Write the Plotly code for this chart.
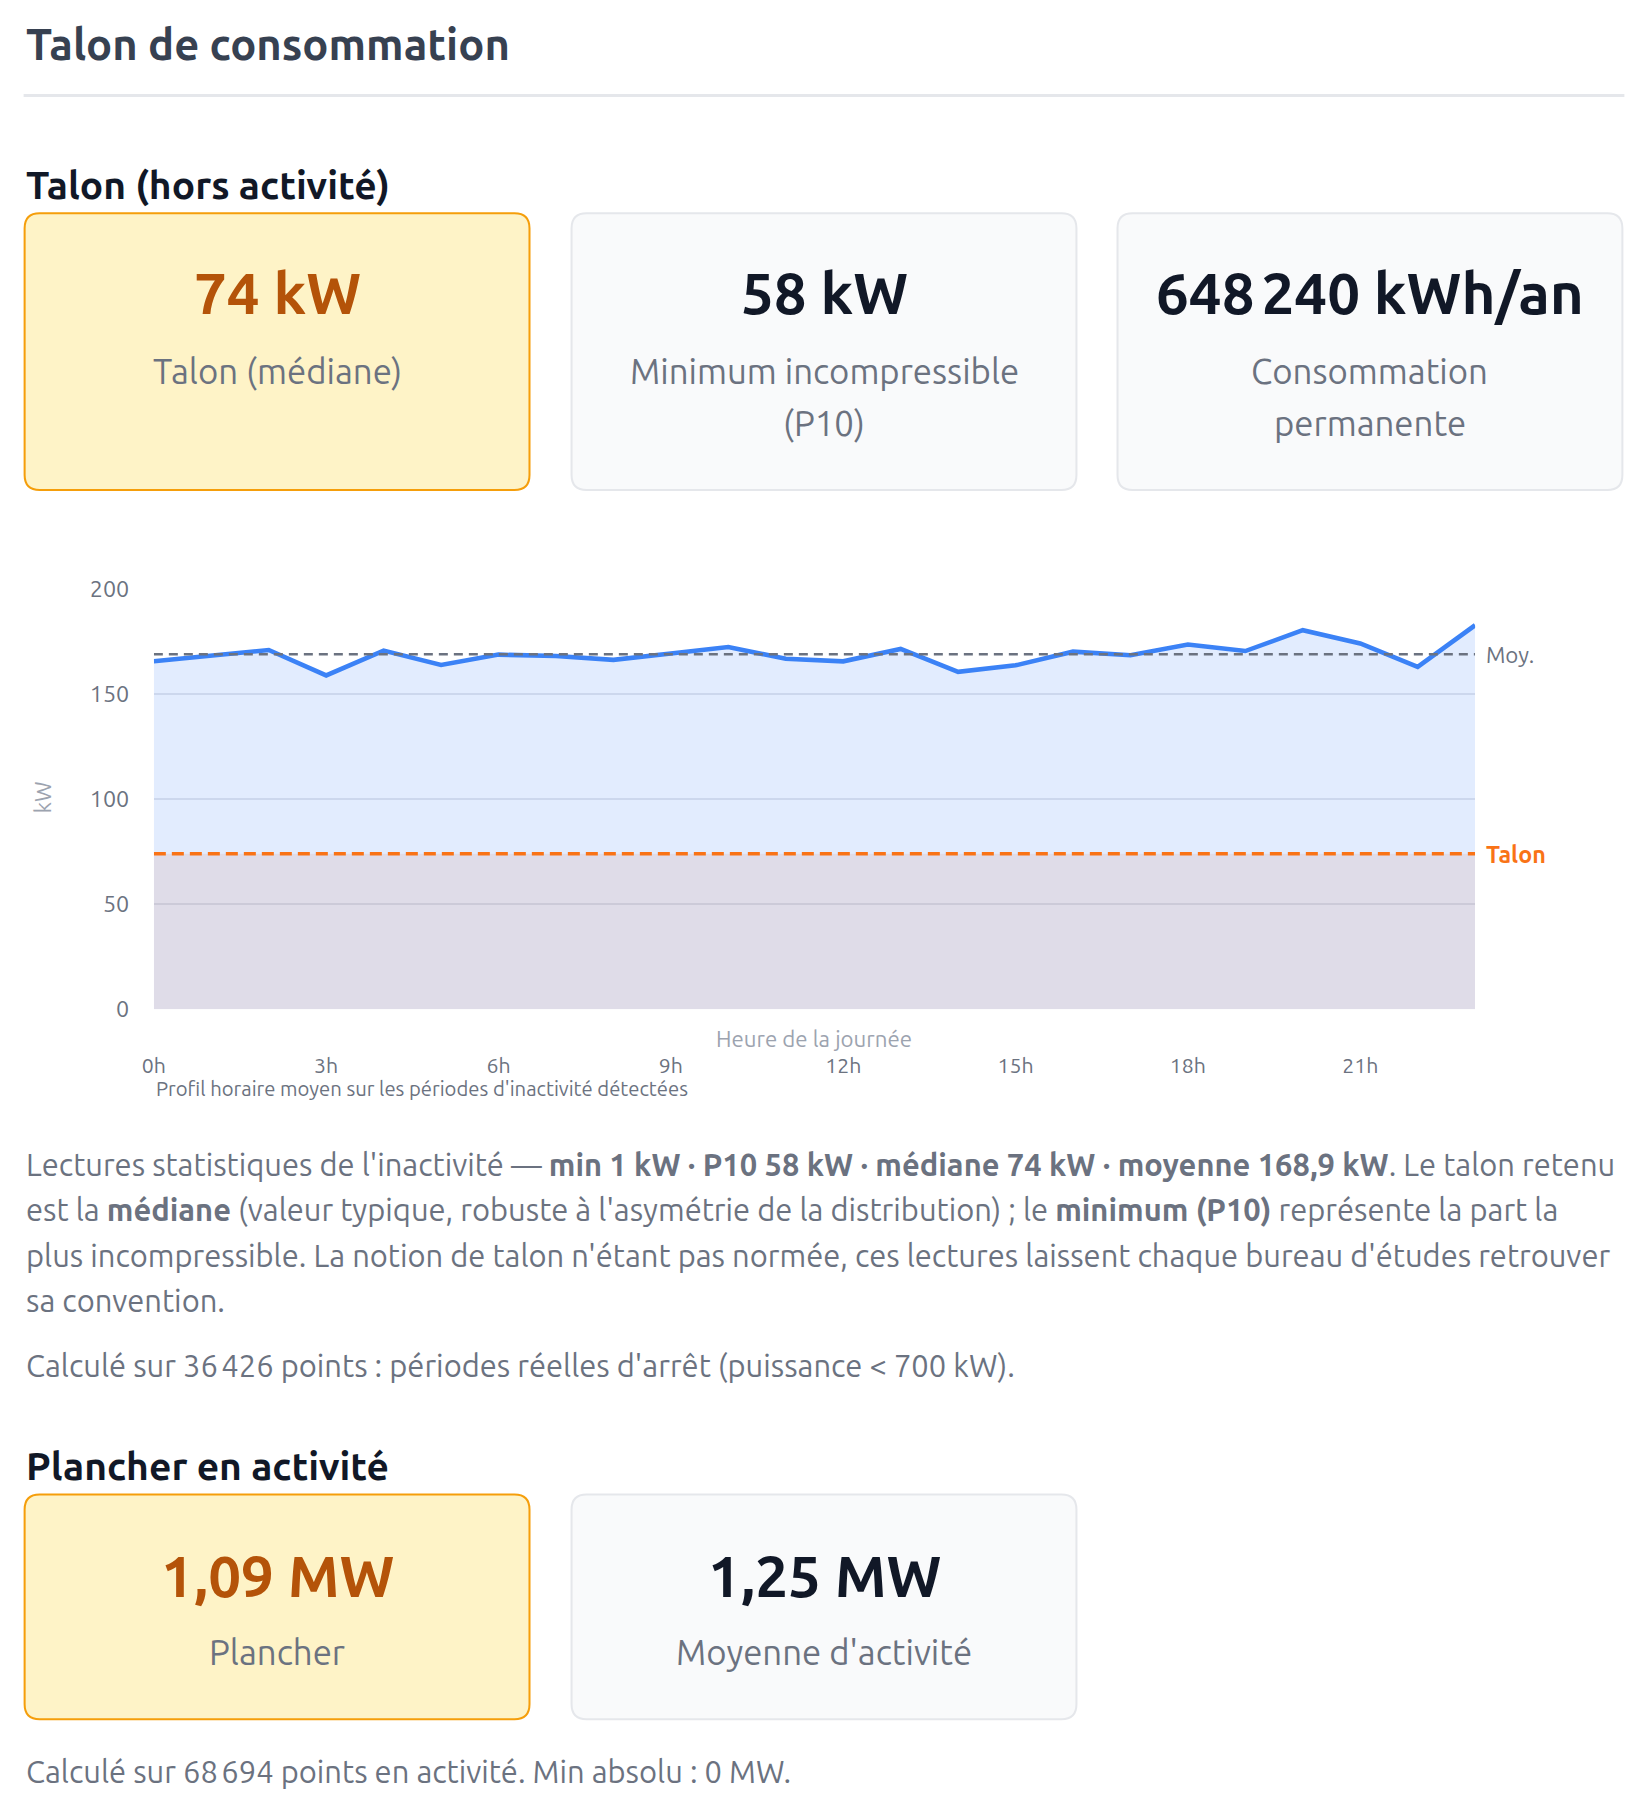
import plotly.graph_objects as go

# ---------------- data ----------------
HOURS = list(range(24))
PROFILE_KW = [165.5, 168.0, 170.9, 158.8, 170.6, 163.8, 168.7, 168.0, 166.2, 169.2, 172.3, 166.7,
              165.5, 171.4, 160.5, 163.6, 170.1, 168.4, 173.5, 170.4, 180.3, 174.0, 162.9, 182.7]
MOY_KW = 168.9
TALON_KW = 74
Y_TICKS = [0, 50, 100, 150, 200]
X_TICK_HOURS = [0, 3, 6, 9, 12, 15, 18, 21]
X_TICK_LABELS = ["0h", "3h", "6h", "9h", "12h", "15h", "18h", "21h"]

CARDS_1_VALUES = ["74 kW", "58 kW", "648\u202f240 kWh/an"]
CARDS_1_LABELS = [["Talon (médiane)"], ["Minimum incompressible", "(P10)"], ["Consommation", "permanente"]]
CARDS_2_VALUES = ["1,09 MW", "1,25 MW"]
CARDS_2_LABELS = [["Plancher"], ["Moyenne d'activité"]]

TITLE = "Talon de consommation"
SUB_1 = "Talon (hors activité)"
SUB_2 = "Plancher en activité"
BODY_LINES = [
    "Lectures statistiques de l'inactivité — <b>min 1 kW · P10 58 kW · médiane 74 kW · moyenne 168,9 kW</b>. Le talon retenu",
    "est la <b>médiane</b> (valeur typique, robuste à l'asymétrie de la distribution) ; le <b>minimum (P10)</b> représente la part la",
    "plus incompressible. La notion de talon n'étant pas normée, ces lectures laissent chaque bureau d'études retrouver",
    "sa convention.",
]
NOTE_1 = "Calculé sur 36\u202f426 points : périodes réelles d'arrêt (puissance &lt; 700 kW)."
NOTE_2 = "Calculé sur 68\u202f694 points en activité. Min absolu : 0 MW."
CHART_NOTE = "Profil horaire moyen sur les périodes d'inactivité détectées"

# ---------------- layout helpers ----------------
W, H = 1648, 1813
FONT = "Ubuntu, Lato, sans-serif"
# the page is photographed with a small inset/scale; compensate so the
# final picture lands on the target pixel positions
SX = 0.991
SY = 0.987
OFF = 13.4


def X(px):
    return ((px - OFF) / SX) / W


def Y(py):
    return 1 - ((py - OFF) / SY) / H


def F(size):
    return size / SY


annotations = []
shapes = []


def text(x, y, s, size, color, bold=False, xanchor="left", **kw):
    annotations.append(dict(
        xref="paper", yref="paper", x=X(x), y=Y(y), text=s, showarrow=False,
        xanchor=xanchor, yanchor="middle", align=xanchor if xanchor != "center" else "center",
        font=dict(family=FONT, size=F(size), color=color, weight=700 if bold else 400), **kw))


def rrect(x0, y0, x1, y1, r, fill, line):
    p = (f"M{X(x0 + r)},{Y(y0)} L{X(x1 - r)},{Y(y0)} Q{X(x1)},{Y(y0)} {X(x1)},{Y(y0 + r)} "
         f"L{X(x1)},{Y(y1 - r)} Q{X(x1)},{Y(y1)} {X(x1 - r)},{Y(y1)} "
         f"L{X(x0 + r)},{Y(y1)} Q{X(x0)},{Y(y1)} {X(x0)},{Y(y1 - r)} "
         f"L{X(x0)},{Y(y0 + r)} Q{X(x0)},{Y(y0)} {X(x0 + r)},{Y(y0)} Z")
    shapes.append(dict(type="path", xref="paper", yref="paper", path=p,
                       fillcolor=fill, line=dict(color=line, width=F(2)), layer="below"))


# heading + rule
text(25, 43, TITLE, 43, "#374151", bold=True)
shapes.append(dict(type="line", xref="paper", yref="paper", x0=X(25), x1=X(1623), y0=Y(95), y1=Y(95),
                   line=dict(color="#e5e7eb", width=F(3))))
text(25, 185, SUB_1, 38.5, "#111827", bold=True)


def card_row(values, labels, top, bottom, val_y, lab_y, lefts):
    for i, (v, labs) in enumerate(zip(values, labels)):
        x0 = lefts[i]
        x1 = x0 + 506
        hl = i == 0
        rrect(x0 + 1, top + 1, x1 - 1, bottom - 1, 15,
              "#fef3c7" if hl else "#f9fafb", "#f59e0b" if hl else "#e5e7eb")
        cx = (x0 + x1) / 2
        text(cx, val_y, v, 57.5, "#b45309" if hl else "#111827", bold=True, xanchor="center")
        for j, lab in enumerate(labs):
            text(cx, lab_y + 52 * j, lab, 34.3, "#6b7280", xanchor="center")


card_row(CARDS_1_VALUES, CARDS_1_LABELS, 212, 491, 292, 371, [25, 571, 1116])

# body text
for i, line in enumerate(BODY_LINES):
    text(25, 1165 + 45.7 * i, line, 30.5, "#6b7280")
text(25, 1367, NOTE_1, 30.5, "#6b7280")

text(25, 1467, SUB_2, 38.5, "#111827", bold=True)
card_row(CARDS_2_VALUES, CARDS_2_LABELS, 1495, 1722, 1577, 1654, [25, 571])
text(25, 1773, NOTE_2, 30.5, "#6b7280")

# chart texts
text(44, 798, "kW", 22, "#9ca3af", xanchor="center", textangle=-90)
text(814, 1039, "Heure de la journée", 22, "#9ca3af", xanchor="center")
text(155, 1089, CHART_NOTE, 20, "#6b7280")

# ---------------- chart ----------------
fig = go.Figure()

# talon band (below traces, above grid)
shapes.append(dict(type="rect", xref="x", yref="y", x0=HOURS[0], x1=HOURS[-1], y0=0, y1=TALON_KW,
                   fillcolor="rgba(234,110,40,0.12)", line=dict(width=0), layer="between"))

fig.add_trace(go.Scatter(x=HOURS, y=PROFILE_KW, mode="lines", fill="tozeroy",
                         fillcolor="rgba(59,130,246,0.15)",
                         line=dict(color="#3b82f6", width=F(4.5)), hoverinfo="skip"))
fig.add_trace(go.Scatter(x=[HOURS[0], HOURS[-1]], y=[MOY_KW, MOY_KW], mode="lines",
                         line=dict(color="#6b7280", width=F(2.5), dash="9px,6px"), hoverinfo="skip"))
fig.add_trace(go.Scatter(x=[HOURS[0], HOURS[-1]], y=[TALON_KW, TALON_KW], mode="lines",
                         line=dict(color="#f97316", width=F(3.5), dash="12px,6px"), hoverinfo="skip"))

annotations.append(dict(xref="x", yref="y", x=HOURS[-1], y=MOY_KW, text="Moy.", showarrow=False,
                        xanchor="left", yanchor="middle", xshift=9,
                        font=dict(family=FONT, size=F(22), color="#6b7280")))
annotations.append(dict(xref="x", yref="y", x=HOURS[-1], y=TALON_KW, text="Talon", showarrow=False,
                        xanchor="left", yanchor="middle", xshift=9,
                        font=dict(family=FONT, size=F(23), color="#f97316", weight=700)))

fig.update_layout(
    width=W, height=H, margin=dict(l=0, r=0, t=0, b=0),
    paper_bgcolor="white", plot_bgcolor="rgba(0,0,0,0)",
    showlegend=False, shapes=shapes, annotations=annotations,
    font=dict(family=FONT),
    xaxis=dict(domain=[X(155), X(1474)], range=[HOURS[0], HOURS[-1]],
               tickvals=X_TICK_HOURS, ticktext=X_TICK_LABELS,
               showgrid=False, zeroline=False, showline=False,
               ticks="outside", ticklen=37, tickcolor="rgba(0,0,0,0)",
               tickfont=dict(family=FONT, size=F(21), color="#6b7280")),
    yaxis=dict(domain=[Y(1010), Y(589)], range=[0, 200], tickvals=Y_TICKS,
               showgrid=True, gridcolor="#e5e7eb", gridwidth=1.5, zeroline=False, showline=False,
               ticks="outside", ticklen=19, tickcolor="rgba(0,0,0,0)",
               tickfont=dict(family=FONT, size=F(23), color="#6b7280")),
)

fig.write_html("out.html", config={"displayModeBar": False})
